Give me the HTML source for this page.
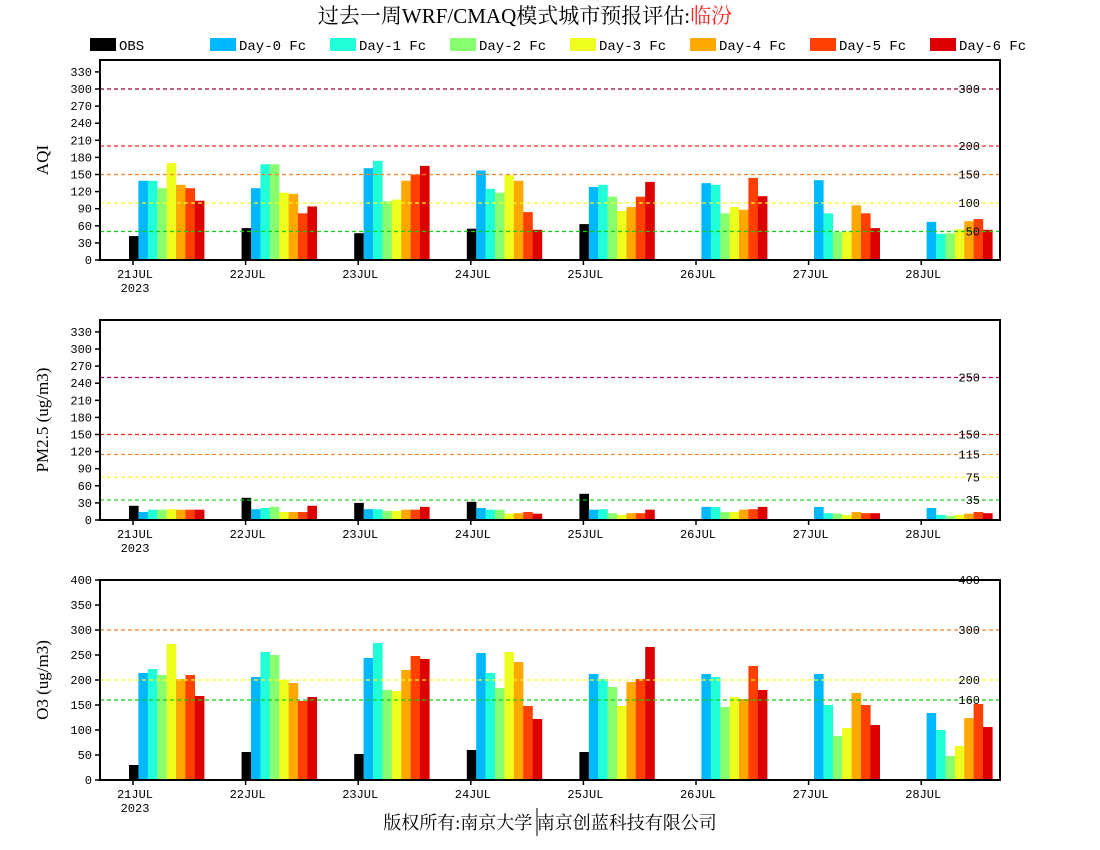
<!DOCTYPE html>
<html><head><meta charset="utf-8"><style>
html,body{margin:0;padding:0;background:#fff;}
svg{display:block;}
text{font-family:"Liberation Mono","Noto Sans CJK SC",monospace;}
text.ser{font-family:"Liberation Serif","Noto Serif CJK SC",serif;}
</style></head><body>
<svg id="s" width="1100" height="850" xmlns="http://www.w3.org/2000/svg">
<text class="ser" x="525" y="23" text-anchor="middle" font-size="21">过去一周WRF/CMAQ模式城市预报评估:<tspan fill="#ff2020">临汾</tspan></text>
<text class="ser" x="550" y="829" text-anchor="middle" font-size="18">版权所有:南京大学 南京创蓝科技有限公司</text>
<line x1="537" y1="808" x2="537" y2="836" stroke="#000" stroke-width="1"/>
</svg>
<script>
var s=document.getElementById('s');var NS='http://www.w3.org/2000/svg';
function el(t,a,txt){var e=document.createElementNS(NS,t);for(var k in a)e.setAttribute(k,a[k]);if(txt!==undefined)e.textContent=txt;s.appendChild(e);return e;}
var cols=['#000000','#00b8ff','#20ffd8','#88ff70','#eeff20','#ffa800','#ff4000','#dd0000'];
var names=['OBS','Day-0 Fc','Day-1 Fc','Day-2 Fc','Day-3 Fc','Day-4 Fc','Day-5 Fc','Day-6 Fc'];
for(var i=0;i<8;i++){var x=90+i*120;el('rect',{x:x,y:38,width:26,height:13,fill:cols[i]});el('text',{x:x+29,y:50,'font-size':14},names[i]);}
var days=['21JUL','22JUL','23JUL','24JUL','25JUL','26JUL','27JUL','28JUL'];
var panels=[
{top:60,bot:260,scale:0.57,step:30,n:11,label:'AQI',
lines:[[300,'#990040'],[200,'#ff2020'],[150,'#ff8020'],[100,'#ffff20'],[50,'#10d010']],
data:[[42,139,139,126,170,132,126,104],[56,126,168,168,118,116,82,94],[47,161,174,103,106,139,150,165],[55,157,125,118,149,139,84,53],[63,128,132,111,86,93,111,137],[null,135,132,82,93,88,144,112],[null,140,82,49,50,96,82,56],[null,67,46,47,54,68,72,53]]},
{top:320,bot:520,scale:0.57,step:30,n:11,label:'PM2.5 (ug/m3)',
lines:[[250,'#c00060'],[150,'#ff2020'],[115,'#ff8020'],[75,'#ffff20'],[35,'#10d010']],
data:[[25,14,18,18,19,18,18,18],[39,19,21,23,14,14,14,25],[30,19,19,16,16,18,18,23],[32,21,18,18,11,12,14,11],[46,18,19,12,9,12,12,18],[null,23,23,14,14,18,19,23],[null,23,12,11,9,14,12,12],[null,21,9,7,9,11,14,12]]},
{top:580,bot:780,scale:0.5,step:50,n:8,label:'O3 (ug/m3)',
lines:[[400,'#ff2020'],[300,'#ff8020'],[200,'#ffff20'],[160,'#10d010']],
data:[[30,214,222,210,272,202,210,168],[56,206,256,250,200,194,158,166],[52,244,274,180,178,220,248,242],[60,254,214,184,256,236,148,122],[56,212,202,186,148,196,202,266],[null,212,206,146,166,162,228,180],[null,212,150,88,104,174,150,110],[null,134,100,48,68,124,152,106]]}];
panels.forEach(function(p){
 var L=100,R=1000;
 p.data.forEach(function(d,i){var t=133+i*112.6;d.forEach(function(v,j){if(v==null)return;var h=v*p.scale;el('rect',{x:(t-4+j*9.4).toFixed(1),y:(p.bot-h).toFixed(1),width:9.6,height:h.toFixed(1),fill:cols[j]});});});
 p.lines.forEach(function(l){var y=p.bot-l[0]*p.scale;el('line',{x1:L,x2:R,y1:y,y2:y,stroke:l[1],'stroke-width':1.2,'stroke-dasharray':'4,3'});el('text',{x:980,y:y+4,'font-size':12,'text-anchor':'end'},String(l[0]));});
 el('rect',{x:L,y:p.top,width:R-L,height:p.bot-p.top,fill:'none',stroke:'#000','stroke-width':2});
 for(var k=0;k<=p.n;k++){var v=k*p.step,y=p.bot-v*p.scale;el('line',{x1:L-5,x2:L,y1:y,y2:y,stroke:'#000','stroke-width':1.5});el('text',{x:L-8,y:y+4,'font-size':12,'text-anchor':'end'},String(v));}
 days.forEach(function(d,i){var t=133+i*112.6;el('line',{x1:t,x2:t,y1:p.bot,y2:p.bot+5,stroke:'#000','stroke-width':1.5});el('text',{x:t+2,y:p.bot+18,'font-size':12,'text-anchor':'middle'},d);});
 el('text',{x:135,y:p.bot+32,'font-size':12,'text-anchor':'middle'},'2023');
 var cy=(p.top+p.bot)/2;var t=el('text',{x:0,y:0,'font-size':17,'text-anchor':'middle',transform:'translate(48,'+cy+') rotate(-90)'},p.label);t.setAttribute('class','ser');
});
</script>
</body></html>
